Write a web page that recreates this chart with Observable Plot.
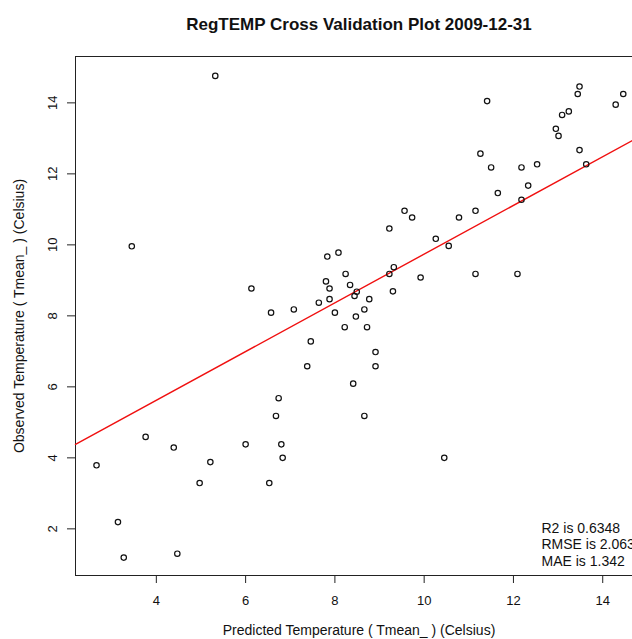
<!DOCTYPE html>
<html><head><meta charset="utf-8">
<script src="https://cdn.jsdelivr.net/npm/d3@7"></script>
<script src="https://cdn.jsdelivr.net/npm/@observablehq/plot@0.6"></script>
<style>
body{margin:0;background:#fff;overflow:hidden;font-family:"Liberation Sans",Arial,Helvetica,sans-serif}
#wrap{position:relative;width:632px;height:639px;overflow:hidden;background:#fff}
#title{position:absolute;left:359px;top:16px;transform:translateX(-50%);font-weight:bold;font-size:17px;line-height:17px;white-space:nowrap;color:#111}
#chart{position:absolute;left:0;top:40px}
</style></head><body>
<div id="wrap"><div id="title"></div><div id="chart"></div></div>
<script>
const title = "RegTEMP Cross Validation Plot 2009-12-31";
const xLabel = "Predicted Temperature ( Tmean_ ) (Celsius)";
const yLabel = "Observed Temperature ( Tmean_ ) (Celsius)";
const statsLines = ["R2 is 0.6348", "RMSE is 2.063", "MAE is 1.342"];
const xTicks = [4, 6, 8, 10, 12, 14];
const yTicks = [2, 4, 6, 8, 10, 12, 14];
const xDomain = [2.189, 14.667];
const yDomain = [0.686, 15.306];
const fitIntercept = 2.88;
const fitSlope = 0.686;

const predicted = [
  5.32, 3.45, 6.13, 6.57, 9.56, 9.73, 9.22, 10.26, 10.55, 8.08,
  7.83, 8.24, 9.32, 9.22, 7.80, 8.34, 7.88, 9.92, 8.49, 8.44,
  9.30, 7.88, 8.77, 7.64, 7.08, 8.00, 8.66, 8.47, 13.48, 13.44,
  14.46, 14.29, 11.41, 13.24, 13.09, 12.95, 13.01, 13.48, 11.26, 11.50,
  12.18, 12.53, 13.63, 12.33, 11.65, 12.18, 11.15, 10.78, 11.15, 12.09,
  3.76, 4.39, 6.00, 2.66, 5.21, 4.97, 6.53, 3.14, 4.47, 3.27,
  8.22, 8.72, 7.46, 8.91, 7.38, 8.91, 8.41, 6.74, 6.68, 8.66,
  6.80, 6.83, 10.45
];
const observed = [
  14.76, 9.96, 8.77, 8.09, 10.96, 10.77, 10.46, 10.17, 9.97, 9.78,
  9.67, 9.18, 9.37, 9.18, 8.97, 8.87, 8.77, 9.08, 8.68, 8.56,
  8.69, 8.47, 8.47, 8.37, 8.18, 8.09, 8.18, 7.98, 14.46, 14.25,
  14.25, 13.95, 14.05, 13.76, 13.66, 13.27, 13.07, 12.67, 12.57, 12.18,
  12.18, 12.27, 12.27, 11.67, 11.46, 11.27, 10.96, 10.77, 9.18, 9.18,
  4.59, 4.29, 4.38, 3.79, 3.88, 3.29, 3.29, 2.19, 1.30, 1.19,
  7.68, 7.68, 7.28, 6.98, 6.58, 6.58, 6.09, 5.68, 5.18, 5.18,
  4.38, 4.00, 4.00
];

const points = predicted.map((p, i) => ({predicted: p, observed: observed[i]}));
const fitLine = xDomain.map(x => ({x, y: fitIntercept + fitSlope * x}));

document.getElementById("title").textContent = title;

const ink = "#111";
const chart = Plot.plot({
  width: 632,
  height: 599,
  marginLeft: 75,
  marginRight: 0,
  marginTop: 16,
  marginBottom: 64,
  style: {fontFamily: "'Liberation Sans', Arial, Helvetica, sans-serif", fontSize: "13px", color: ink, background: "#fff"},
  x: {domain: xDomain},
  y: {domain: yDomain},
  marks: [
    Plot.axisX(xTicks, {anchor: "bottom", tickSize: 8, tickPadding: 12, label: null, stroke: "#222", fontSize: 13}),
    Plot.axisY(yTicks, {anchor: "left", tickSize: 8, tickPadding: 11, tickRotate: -90, label: null, stroke: "#222", fontSize: 13}),
    Plot.ruleX([xDomain[0]], {stroke: "#222", strokeWidth: 1}),
    Plot.ruleY([yDomain[0], yDomain[1]], {stroke: "#222", strokeWidth: 1}),
    Plot.line(fitLine, {x: "x", y: "y", stroke: "#f01010", strokeWidth: 1.4}),
    Plot.dot(points, {x: "predicted", y: "observed", r: 2.7, stroke: ink, strokeWidth: 1.2, fill: "none"}),
    Plot.text([statsLines.join("\n")], {frameAnchor: "bottom-left", dx: 466, dy: -10, textAnchor: "start", lineAnchor: "bottom", lineHeight: 1.16, fontSize: 14, fill: ink}),
    Plot.text([xLabel], {frameAnchor: "bottom", dx: 5, dy: 59, lineAnchor: "bottom", fontSize: 14, fill: ink}),
    Plot.text([yLabel], {frameAnchor: "left", dx: -52, rotate: -90, textAnchor: "middle", lineAnchor: "bottom", fontSize: 14, fill: ink})
  ]
});
document.getElementById("chart").appendChild(chart);
</script>
</body></html>
